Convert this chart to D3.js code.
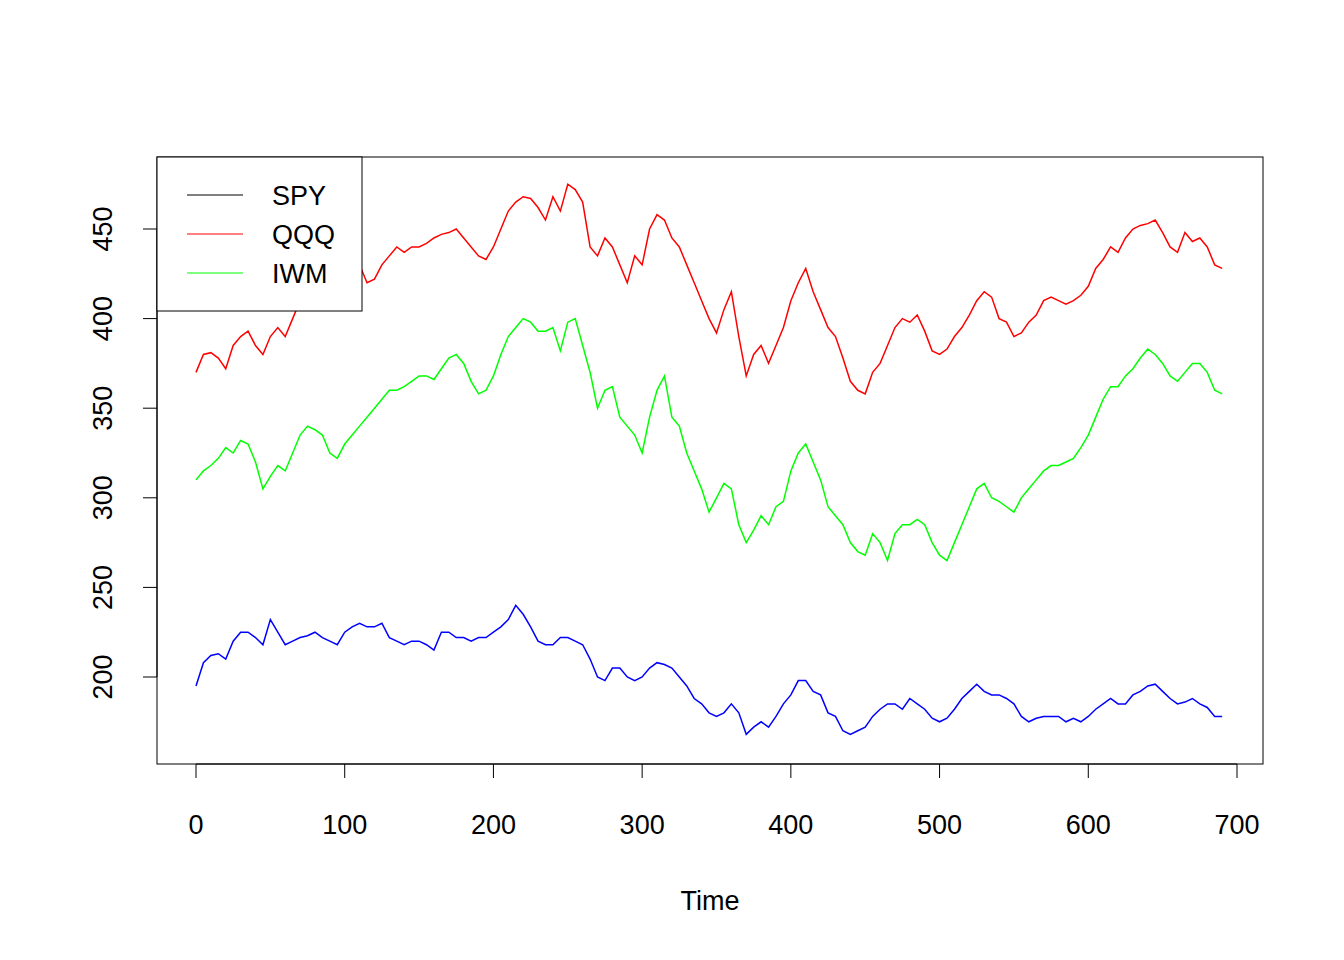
<!DOCTYPE html>
<html><head><meta charset="utf-8">
<script src="https://cdn.jsdelivr.net/npm/d3@7"></script>
<style>body{margin:0;background:#fff}</style>
</head><body>
<script>
// values read every 5 time steps
var step = 5
var qqq = [370,380,381,378,372,385,390,393,385,380,390,395,390,400,410,415,420,425,430,425,420,425,430,420,422,430,435,440,437,440,440,442,445,447,448,450,445,440,435,433,440,450,460,465,468,467,462,455,468,460,475,472,465,440,435,445,440,430,420,435,430,450,458,455,445,440,430,420,410,400,392,405,415,390,368,380,385,375,385,395,410,420,428,415,405,395,390,378,365,360,358,370,375,385,395,400,398,402,393,382,380,383,390,395,402,410,415,412,400,398,390,392,398,402,410,412,410,408,410,413,418,428,433,440,437,445,450,452,453,455,448,440,437,448,443,445,440,430,428]
var iwm = [310,315,318,322,328,325,332,330,320,305,312,318,315,325,335,340,338,335,325,322,330,335,340,345,350,355,360,360,362,365,368,368,366,372,378,380,375,365,358,360,368,380,390,395,400,398,393,393,395,382,398,400,385,370,350,360,362,345,340,335,325,345,360,368,345,340,325,315,305,292,300,308,305,285,275,282,290,285,295,298,315,325,330,320,310,295,290,285,275,270,268,280,275,265,280,285,285,288,285,275,268,265,275,285,295,305,308,300,298,295,292,300,305,310,315,318,318,320,322,328,335,345,355,362,362,368,372,378,383,380,375,368,365,370,375,375,370,360,358]
var spy = [195,208,212,213,210,220,225,225,222,218,232,225,218,220,222,223,225,222,220,218,225,228,230,228,228,230,222,220,218,220,220,218,215,225,225,222,222,220,222,222,225,228,232,240,235,228,220,218,218,222,222,220,218,210,200,198,205,205,200,198,200,205,208,207,205,200,195,188,185,180,178,180,185,180,168,172,175,172,178,185,190,198,198,192,190,180,178,170,168,170,172,178,182,185,185,182,188,185,182,177,175,177,182,188,192,196,192,190,190,188,185,178,175,177,178,178,178,175,177,175,178,182,185,188,185,185,190,192,195,196,192,188,185,186,188,185,183,178,178]
var xTicks = [0,100,200,300,400,500,600,700]
var yTicks = [200,250,300,350,400,450]
var legendNames = ["SPY","QQQ","IWM"]
var legendColors = ["black","red","#00ff00"]

var svg = d3.select("body").append("svg").attr("width",1344).attr("height",960)
  .style("font-family","'Liberation Sans', Arial, sans-serif")
var x = d3.scaleLinear().domain([0,700]).range([196,1237])
var y = d3.scaleLinear().domain([200,450]).range([677,229])

svg.append("rect").attr("x",157).attr("y",157).attr("width",1106).attr("height",607)
  .attr("fill","none").attr("stroke","black")

var series = [[qqq,"red"],[iwm,"#00ff00"],[spy,"blue"]]
series.forEach(function(s){
  var line = d3.line().x(function(d,i){return x(i*step)}).y(function(d){return y(d)})
  svg.append("path").attr("d",line(s[0])).attr("fill","none").attr("stroke",s[1]).attr("stroke-width",1.5)
})

// axes
svg.append("line").attr("x1",x(0)).attr("x2",x(700)).attr("y1",764).attr("y2",764).attr("stroke","black")
xTicks.forEach(function(t){
  svg.append("line").attr("x1",x(t)).attr("x2",x(t)).attr("y1",764).attr("y2",778).attr("stroke","black")
  svg.append("text").attr("x",x(t)).attr("y",834).attr("text-anchor","middle").attr("font-size",27).text(t)
})
svg.append("line").attr("x1",157).attr("x2",157).attr("y1",y(200)).attr("y2",y(450)).attr("stroke","black")
yTicks.forEach(function(t){
  svg.append("line").attr("x1",143).attr("x2",157).attr("y1",y(t)).attr("y2",y(t)).attr("stroke","black")
  svg.append("text").attr("transform","translate(112,"+y(t)+") rotate(-90)")
    .attr("text-anchor","middle").attr("font-size",27).text(t)
})
svg.append("text").attr("x",710).attr("y",910).attr("text-anchor","middle").attr("font-size",27).text("Time")

// legend
svg.append("rect").attr("x",157).attr("y",157).attr("width",205).attr("height",154)
  .attr("fill","white").attr("stroke","black")
legendNames.forEach(function(n,i){
  var ly = 195 + i*39
  svg.append("line").attr("x1",187).attr("x2",243).attr("y1",ly).attr("y2",ly).attr("stroke",legendColors[i])
  svg.append("text").attr("x",272).attr("y",ly+10).attr("font-size",27).text(n)
})
</script>
</body></html>
